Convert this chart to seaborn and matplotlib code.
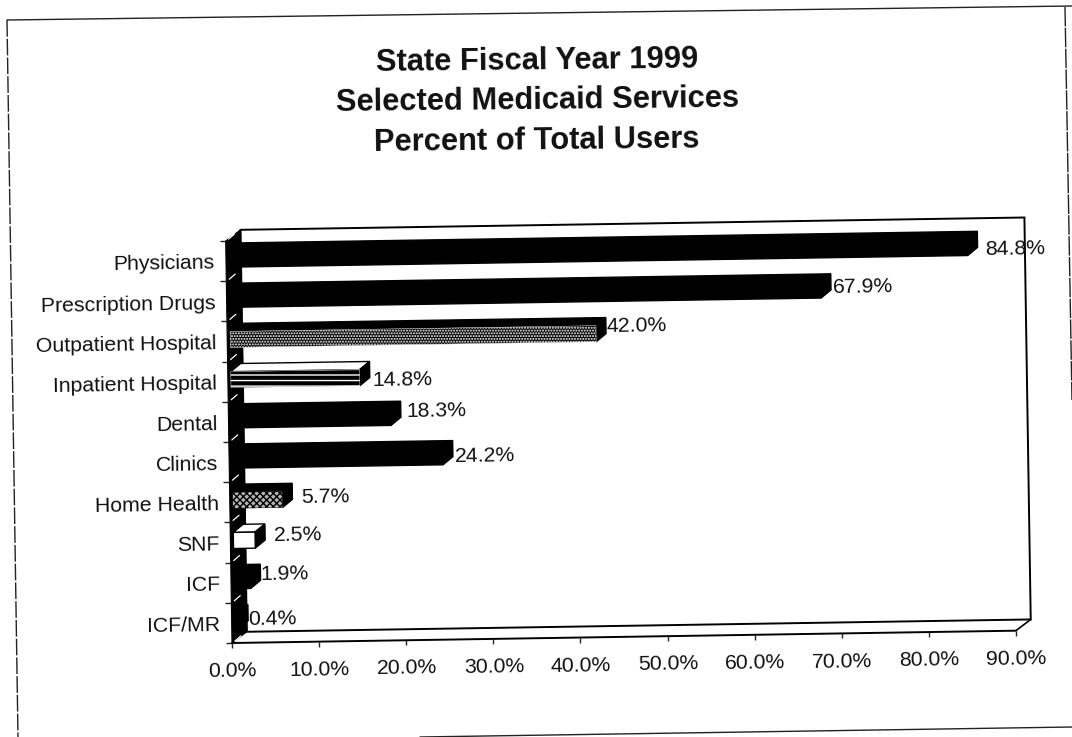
import matplotlib
matplotlib.use("Agg")
import matplotlib.pyplot as plt
import seaborn as sns
from matplotlib.lines import Line2D
from matplotlib.patches import Polygon, Rectangle
from matplotlib.transforms import Affine2D, IdentityTransform

# Data
services = ["Physicians", "Prescription Drugs", "Outpatient Hospital", "Inpatient Hospital",
            "Dental", "Clinics", "Home Health", "SNF", "ICF", "ICF/MR"]
percent_users = [84.8, 67.9, 42.0, 14.8, 18.3, 24.2, 5.7, 2.5, 1.9, 0.4]
value_labels = ["84.8%", "67.9%", "42.0%", "14.8%", "18.3%", "24.2%", "5.7%", "2.5%", "1.9%", "0.4%"]
x_ticks = [0, 10, 20, 30, 40, 50, 60, 70, 80, 90]
x_tick_labels = ["0.0%", "10.0%", "20.0%", "30.0%", "40.0%", "50.0%", "60.0%", "70.0%", "80.0%", "90.0%"]
title_lines = ["State Fiscal Year 1999", "Selected Medicaid Services", "Percent of Total Users"]

# Per-bar styling: face, hatch colour, hatch, top face
face_style = [("black", "black", "", "black"), ("black", "black", "", "black"),
              ("black", "white", "......", "black"), ("black", "white", "---", "white"),
              ("black", "black", "", "black"), ("black", "black", "", "black"),
              ("#b5b5b5", "black", "xxxxx", "black"), ("white", "black", "", "white"),
              ("black", "black", "", "black"), ("black", "black", "", "black")]
# Hand placement of the value labels, in pixels from the bar end
label_nudge = [(20, 0), (15, 4), (13, 9), (15, -1), (18, 8), (15, 2), (22, 4), (22, 6), (13, 8), (13, 3)]

W, H = 1072, 737
PIVOT = (232, H - 643)
TILT = 0.9
WALL = (15, 11)      # depth of the chart box, pixels
BAR_IN = (3, 2)      # set-back of the bar fronts
BAR_D = (10, 8)      # depth of the bars
TEXT_SIZE = 15.3

sns.set_style("white")
plt.rcParams["font.family"] = ["Liberation Sans", "DejaVu Sans"]

fig = plt.figure(figsize=(W / 100, H / 100), dpi=100)
ax = fig.add_axes([PIVOT[0] / W, PIVOT[1] / H, 784 / W, 402 / H])
ax.patch.set_visible(False)
sns.barplot(x=percent_users, y=services, orient="h", color="black", width=0.4, saturation=1, ax=ax)
ax.set_xlim(0, 90)
ax.set_ylim(9.5, -0.5)

rot = Affine2D().rotate_deg_around(PIVOT[0], PIVOT[1], TILT)
box = ax.transAxes + rot


def shifted(base, dx, dy):
    return base + Affine2D().translate(dx, dy)


# Chart box: left wall, back plane and floor
wall_front = ax.transAxes.transform([(0, 0), (0, 1)])
wall_px = [wall_front[0], wall_front[1], wall_front[1] + WALL, wall_front[0] + WALL]
ax.add_patch(Polygon(wall_px, closed=True, fc="black", ec="black", lw=0.8,
                     transform=rot, clip_on=False, zorder=1.5))
ax.add_patch(Rectangle((0, 0), 1, 1, fill=False, ec="black", lw=1.4, transform=shifted(ax.transAxes, *WALL) + rot,
                       clip_on=False, zorder=1))
ax.add_line(Line2D([0, 1], [0, 0], color="black", lw=1.4, transform=box, clip_on=False, zorder=2))
corner = ax.transAxes.transform((1, 0))
ax.add_line(Line2D([corner[0], corner[0] + WALL[0]], [corner[1], corner[1] + WALL[1]], color="black",
                   lw=1.2, transform=rot, clip_on=False, zorder=2))

# Light diagonal strokes across the wall at each band edge
for edge in [i - 0.5 for i in range(11)]:
    ex, ey = ax.transData.transform((0, edge))
    ax.add_line(Line2D([ex + 3, ex + 9], [ey + 2, ey + 7], color="white", lw=0.9, transform=rot,
                       clip_on=False, zorder=3))

# Bars: the front faces come from seaborn, top and side are extruded from them
front = shifted(ax.transData, BAR_IN[0], BAR_IN[1]) + rot
to_px = Affine2D().translate(*BAR_IN) + rot
for bar, (face, hatch_col, hatch, top_col) in zip(ax.patches, face_style):
    bar.set_transform(front)
    bar.set_facecolor(face)
    bar.set_edgecolor(hatch_col if hatch else "black")
    bar.set_hatch(hatch)
    bar.set_linewidth(0.3 if hatch else 1.0)
    bar.set_zorder(5)
    bar.set_clip_on(False)
    x1 = bar.get_width()
    y0, y1 = bar.get_y(), bar.get_y() + bar.get_height()
    p = ax.transData.transform([(0, y0), (x1, y0), (x1, y1), (0, y1)])
    top = [p[0], p[1], p[1] + BAR_D, p[0] + BAR_D]
    side = [p[1], p[2], p[2] + BAR_D, p[1] + BAR_D]
    ax.add_patch(Polygon(top, closed=True, fc=top_col, ec="black", lw=1.0, transform=to_px,
                         clip_on=False, zorder=4))
    ax.add_patch(Polygon(side, closed=True, fc="black", ec="black", lw=1.0, transform=to_px,
                         clip_on=False, zorder=4))

# Value labels
for i, (val, txt, (dx, dy)) in enumerate(zip(percent_users, value_labels, label_nudge)):
    ax.text(val, i, txt, fontsize=TEXT_SIZE, color="#111111", ha="left", va="center", clip_on=False,
            rotation=TILT, rotation_mode="anchor", transform=shifted(ax.transData, dx, dy) + rot, zorder=6)

# Axes furniture
sns.despine(ax=ax, left=True, bottom=True, top=True, right=True)
ax.set_xlabel("")
ax.set_ylabel("")
ax.set_xticks(x_ticks, x_tick_labels)
ax.set_yticks([i - 0.5 for i in range(11)], minor=True)
ax.tick_params(axis="x", which="major", length=3.5, width=1, pad=10, labelsize=TEXT_SIZE, bottom=True,
               labelcolor="#111111")
ax.tick_params(axis="y", which="major", length=0, pad=8, labelsize=TEXT_SIZE, labelcolor="#111111")
ax.tick_params(axis="y", which="minor", length=4, width=1, left=True)
for axis in (ax.xaxis, ax.yaxis):
    for tick in axis.get_major_ticks() + axis.get_minor_ticks():
        tick.label1.set_transform(tick.label1.get_transform() + rot)
        tick.label1.set_rotation(TILT)
        tick.label1.set_rotation_mode("anchor")
        tick.tick1line.set_transform(tick.tick1line.get_transform() + rot)

# Title
for line, ypos in zip(title_lines, [61, 101, 141]):
    fig.text(537 / W, 1 - ypos / H, line, fontsize=22.2, fontweight="bold", color="#111111",
             ha="center", va="center", rotation=0.6)

# Page frame
for xs, ys, ls in [((7, 18), (H - 20, 0), (0, (12, 1.5))), ((7, 1072), (H - 20, H - 6), "-"),
                   ((1065, 1072), (H - 7, H - 400), (0, (14, 1))), ((420, 1072), (0, H - 727), "-")]:
    fig.add_artist(Line2D(xs, ys, color="#222222", lw=1.0, ls=ls, transform=IdentityTransform()))

fig.savefig("out.png", dpi=100, facecolor="white")
